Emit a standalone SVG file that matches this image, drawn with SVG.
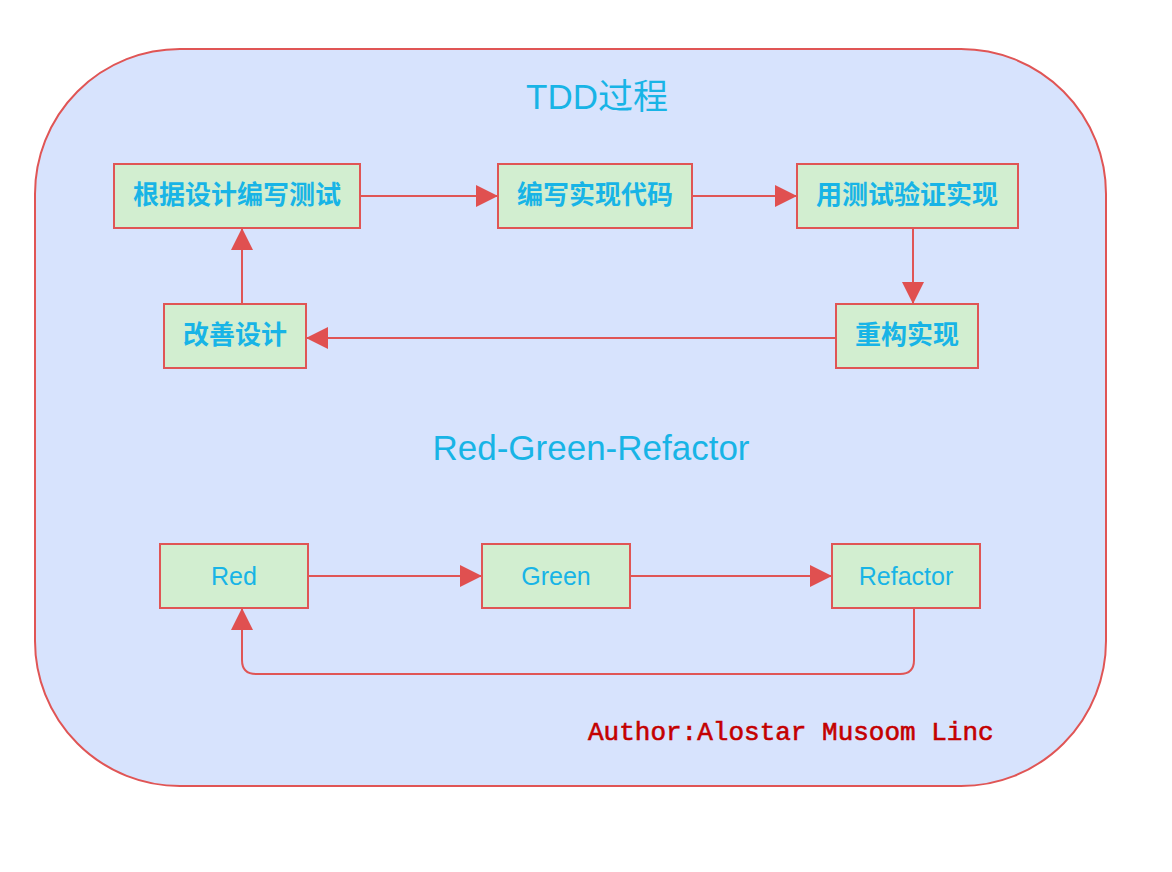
<svg xmlns="http://www.w3.org/2000/svg" width="1172" height="872" viewBox="0 0 1172 872">
<style>
.node rect{fill:#d2eed0;stroke:#e05555;stroke-width:2}
.cn{font-family:"Liberation Sans","Noto Sans CJK SC",sans-serif;font-size:25px;fill:#18b4e6;text-anchor:middle;dominant-baseline:central}
.zh{font-size:26px;font-weight:bold}
.title{font-family:"Liberation Sans","Noto Sans CJK SC",sans-serif;font-size:35px;fill:#18b4e6;text-anchor:middle}
.edge{fill:none;stroke:#e05555;stroke-width:2}
.author{font-family:"Liberation Mono",monospace;font-size:26px;fill:#c40000;stroke:#c40000;stroke-width:0.6}
</style>
<defs>
<marker id="arrL" viewBox="0 0 10 10" refX="10" refY="5" markerWidth="22" markerHeight="22" markerUnits="userSpaceOnUse" orient="auto">
<path d="M0,0 L10,5 L0,10 z" fill="#e05050"/>
</marker>
</defs>
<rect width="1172" height="872" fill="#ffffff"/>
<g id="container">
<rect x="35" y="49" width="1071" height="737" rx="145" ry="145" fill="#d7e3fd" stroke="#e05555" stroke-width="2"/>
<text class="title" x="597" y="109">TDD过程</text>
<text class="title" x="591" y="460">Red-Green-Refactor</text>
</g>
<g id="connectors">
<path class="edge" d="M360,196 H498" marker-end="url(#arrL)"/>
<path class="edge" d="M692,196 H797" marker-end="url(#arrL)"/>
<path class="edge" d="M913,228 V304" marker-end="url(#arrL)"/>
<path class="edge" d="M836,338 H306" marker-end="url(#arrL)"/>
<path class="edge" d="M242,304 V228" marker-end="url(#arrL)"/>
<path class="edge" d="M308,576 H482" marker-end="url(#arrL)"/>
<path class="edge" d="M630,576 H832" marker-end="url(#arrL)"/>
<path class="edge" d="M914,608 V660 Q914,674 900,674 H256 Q242,674 242,660 V608" marker-end="url(#arrL)"/>
</g>
<g id="n1" class="node"><rect x="114" y="164" width="246" height="64"/><text class="cn zh" x="237" y="195">根据设计编写测试</text></g>
<g id="n2" class="node"><rect x="498" y="164" width="194" height="64"/><text class="cn zh" x="595" y="195">编写实现代码</text></g>
<g id="n3" class="node"><rect x="797" y="164" width="221" height="64"/><text class="cn zh" x="907" y="195">用测试验证实现</text></g>
<g id="n4" class="node"><rect x="836" y="304" width="142" height="64"/><text class="cn zh" x="907" y="335">重构实现</text></g>
<g id="n5" class="node"><rect x="164" y="304" width="142" height="64"/><text class="cn zh" x="235" y="335">改善设计</text></g>
<g id="r1" class="node"><rect x="160" y="544" width="148" height="64"/><text class="cn" x="234" y="576">Red</text></g>
<g id="r2" class="node"><rect x="482" y="544" width="148" height="64"/><text class="cn" x="556" y="576">Green</text></g>
<g id="r3" class="node"><rect x="832" y="544" width="148" height="64"/><text class="cn" x="906" y="576">Refactor</text></g>
<g id="author"><text class="author" x="588" y="740">Author:Alostar Musoom Linc</text></g>
</svg>
